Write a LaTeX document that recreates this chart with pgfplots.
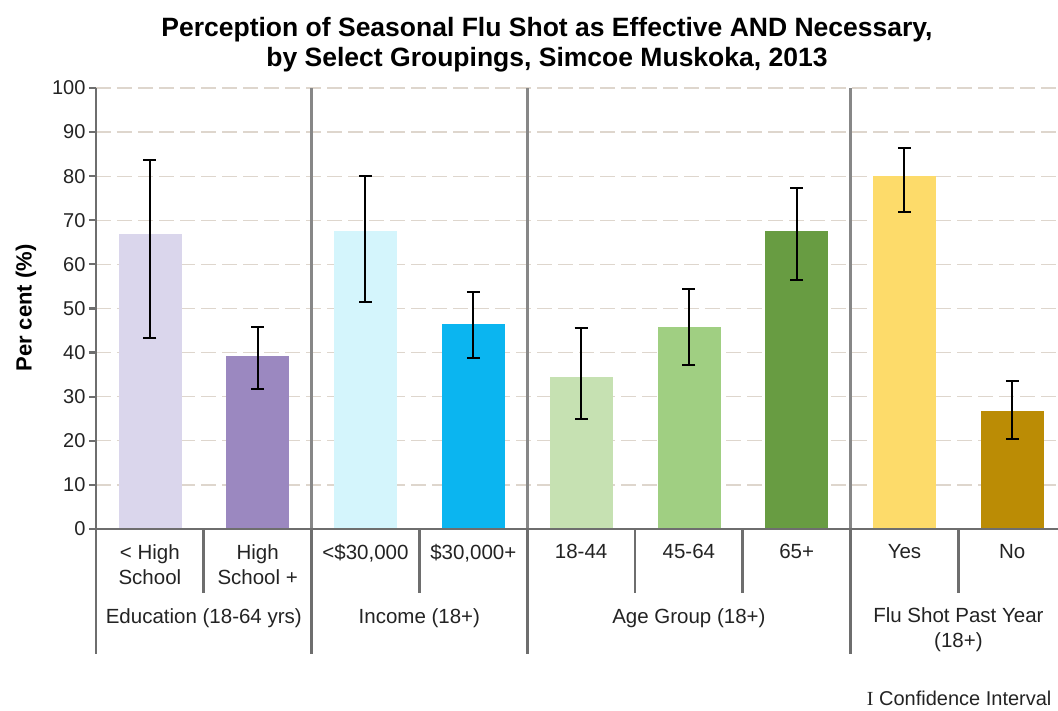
\documentclass[border=0pt]{standalone}
\usepackage{fontspec}
\setmainfont{Liberation Sans}
\newfontfamily\seriffont{Liberation Serif}
\usepackage{pgfplots}
\pgfplotsset{compat=1.18}
\definecolor{axisgray}{RGB}{110,110,110}
\definecolor{sepgray}{RGB}{135,135,135}
\definecolor{gridc}{RGB}{222,214,205}
\definecolor{txt}{RGB}{35,35,35}
\definecolor{c1}{RGB}{218,214,236}
\definecolor{c2}{RGB}{155,136,192}
\definecolor{c3}{RGB}{212,245,252}
\definecolor{c4}{RGB}{11,181,240}
\definecolor{c5}{RGB}{198,225,178}
\definecolor{c6}{RGB}{160,207,130}
\definecolor{c7}{RGB}{104,156,66}
\definecolor{c8}{RGB}{253,219,106}
\definecolor{c9}{RGB}{187,140,5}
\begin{document}
\begin{tikzpicture}[x=1pt,y=1pt]
\path[use as bounding box] (0,0) rectangle (1058,710);
\begin{axis}[
  at={(96pt,181pt)}, anchor=south west, scale only axis,
  width=962pt, height=441pt,
  xmin=-0.5, xmax=8.424, ymin=0, ymax=100,
  clip=false,
  axis line style={draw=none},
  ytick={0,10,...,100},
  xtick={0,...,8},
  xticklabels={{< High\\School},{High\\School +},{<\$30,000},{\$30,000+},{18-44},{45-64},{65+},{Yes},{No}},
  ymajorgrids,
  grid style={gridc, dash pattern=on 15pt off 6pt, line width=1.2pt},
  tick align=outside,
  major tick length=7pt,
  ytick style={axisgray, line width=2.2pt},
  xtick style={draw=none},
  /pgf/number format/assume math mode=true,
  yticklabel style={font=\fontsize{20}{24}\selectfont, text=txt},
  xticklabel style={font=\fontsize{20.5}{25}\selectfont, text=txt, align=center, anchor=north, inner sep=0pt, yshift=-8pt},
  ybar, bar width=62pt, bar shift=0pt,
  error bars/y dir=both, error bars/y explicit,
  error bars/error bar style={draw=black, line width=2pt},
  error bars/error mark options={draw=black, rotate=90, mark size=6.5pt, line width=2pt},
]
\addplot[fill=c1, draw=c1] coordinates {(0,66.8) += (0,16.9) -= (0,23.6)};
\addplot[fill=c2, draw=c2] coordinates {(1,39.2) += (0,6.7) -= (0,7.4)};
\addplot[fill=c3, draw=c3] coordinates {(2,67.6) += (0,12.5) -= (0,16.2)};
\addplot[fill=c4, draw=c4] coordinates {(3,46.4) += (0,7.3) -= (0,7.7)};
\addplot[fill=c5, draw=c5] coordinates {(4,34.5) += (0,11.0) -= (0,9.5)};
\addplot[fill=c6, draw=c6] coordinates {(5,45.8) += (0,8.7) -= (0,8.5)};
\addplot[fill=c7, draw=c7] coordinates {(6,67.6) += (0,9.7) -= (0,11.2)};
\addplot[fill=c8, draw=c8] coordinates {(7,80.0) += (0,6.4) -= (0,8.1)};
\addplot[fill=c9, draw=c9] coordinates {(8,26.7) += (0,6.9) -= (0,6.2)};
% group separators
\foreach \g in {1.5,3.5,6.5} {
  \edef\tmp{\noexpand\draw[sepgray, line width=2.8pt] (axis cs:\g,0) -- (axis cs:\g,100);}\tmp
  \edef\tmp{\noexpand\draw[axisgray, line width=2.8pt] (axis cs:\g,0) -- (axis cs:\g,-28.3);}\tmp
}
\foreach \g in {0.5,2.5,4.5,5.5,7.5} {
  \edef\tmp{\noexpand\draw[axisgray, line width=2.8pt] (axis cs:\g,0) -- (axis cs:\g,-14.5);}\tmp
}
\draw[axisgray, line width=2.8pt] (axis cs:-0.5,100) -- (axis cs:-0.5,-28.3);
\draw[axisgray, line width=2.8pt] (axis cs:-0.5,0) -- (axis cs:8.424,0);
\node[font=\fontsize{20.5}{25}\selectfont, text=txt, align=center] at (axis cs:0.5,-20.2) {Education (18-64 yrs)};
\node[font=\fontsize{20.5}{25}\selectfont, text=txt, align=center] at (axis cs:2.5,-20.2) {Income (18+)};
\node[font=\fontsize{20.5}{25}\selectfont, text=txt, align=center] at (axis cs:5,-20.2) {Age Group (18+)};
\node[font=\fontsize{20.5}{25}\selectfont, text=txt, align=center] at (axis cs:7.5,-22.9) {Flu Shot Past Year\\(18+)};
\node[font=\bfseries\fontsize{22}{26}\selectfont, text=black, rotate=90] at (axis cs:-1.15,50.1) {Per cent (\%)};
\end{axis}
\node[font=\bfseries\fontsize{26.5}{30}\selectfont, align=center, text=black] at (547,665) {Perception of Seasonal Flu Shot as Effective AND  Necessary,\\by Select Groupings,  Simcoe Muskoka,  2013};
\node[font=\fontsize{20}{24}\selectfont, text=txt, anchor=east] at (1055,12) {{\seriffont I} Confidence Interval};
\end{tikzpicture}
\end{document}
